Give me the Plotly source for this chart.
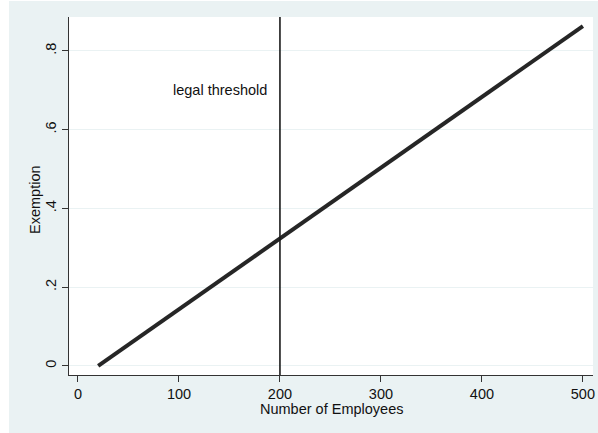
import plotly.graph_objects as go

# Data
employees = [20, 500]
exemption = [0.0, 0.863]
threshold_x = 200
threshold_label = "legal threshold"
label_pos = (189, 0.70)

x_ticks = [0, 100, 200, 300, 400, 500]
y_ticks = [0, 0.2, 0.4, 0.6, 0.8]
y_tick_text = ["0", ".2", ".4", ".6", ".8"]
x_title = "Number of Employees"
y_title = "Exemption"

BG = "#EAF2F3"
FONT = "Liberation Sans, Arial, sans-serif"
TXT = "#111111"
FS = 14.5

fig = go.Figure()
fig.add_trace(go.Scatter(x=employees, y=exemption, mode="lines",
                         line=dict(color="#262626", width=4), showlegend=False,
                         hoverinfo="skip"))

W, H = 598, 433
L, R, T, B = 69, 5, 17, 58
pw, ph = W - L - R, H - T - B

def px_x(p):
    return (p - L) / pw

def px_y(p):
    return (H - B - p) / ph

shapes = [
    # outer light-blue frame
    dict(type="rect", xref="paper", yref="paper", layer="below",
         x0=px_x(9), x1=px_x(600), y0=px_y(433), y1=px_y(1),
         fillcolor=BG, line=dict(width=0)),
    # white plot region
    dict(type="rect", xref="paper", yref="paper", layer="below",
         x0=0, x1=1, y0=0, y1=1, fillcolor="white", line=dict(width=0)),
    # threshold line
    dict(type="line", xref="x", yref="paper", x0=threshold_x, x1=threshold_x,
         y0=0, y1=1, line=dict(color="#1a1a1a", width=1.6)),
]

annotations = [
    dict(x=label_pos[0], y=label_pos[1], xref="x", yref="y",
         text=threshold_label, showarrow=False, xanchor="right",
         yanchor="middle", font=dict(size=FS, color=TXT)),
    dict(x=0.5, y=px_y(409), xref="paper", yref="paper", text=x_title,
         showarrow=False, xanchor="center", yanchor="middle",
         font=dict(size=FS, color=TXT)),
    dict(x=px_x(35), y=px_y(200), xref="paper", yref="paper", text=y_title,
         showarrow=False, xanchor="center", yanchor="middle", textangle=-90,
         font=dict(size=FS, color=TXT)),
]

fig.update_layout(
    width=W, height=H,
    margin=dict(l=L, r=R, t=T, b=B, autoexpand=False),
    paper_bgcolor="white", plot_bgcolor="white",
    font=dict(family=FONT, size=FS, color=TXT),
    shapes=shapes,
    annotations=annotations,
)

fig.update_xaxes(
    range=[-8.9, 510], tickvals=x_ticks, ticktext=[str(v) for v in x_ticks],
    automargin=False,
    showgrid=False, zeroline=False, showline=True, linecolor="#333333", linewidth=1,
    ticks="outside", ticklen=6, tickcolor="#333333",
)
fig.update_yaxes(
    range=[-0.0229, 0.886], tickvals=y_ticks, ticktext=y_tick_text, tickangle=-90,
    automargin=False,
    showgrid=True, gridcolor=BG, gridwidth=1, zeroline=False,
    showline=True, linecolor="#333333", linewidth=1,
    ticks="outside", ticklen=6, tickcolor="#333333",
)

fig.write_html("out.html", config={"displayModeBar": False},
               post_script="document.body.style.margin='0';document.body.style.overflow='hidden';")
